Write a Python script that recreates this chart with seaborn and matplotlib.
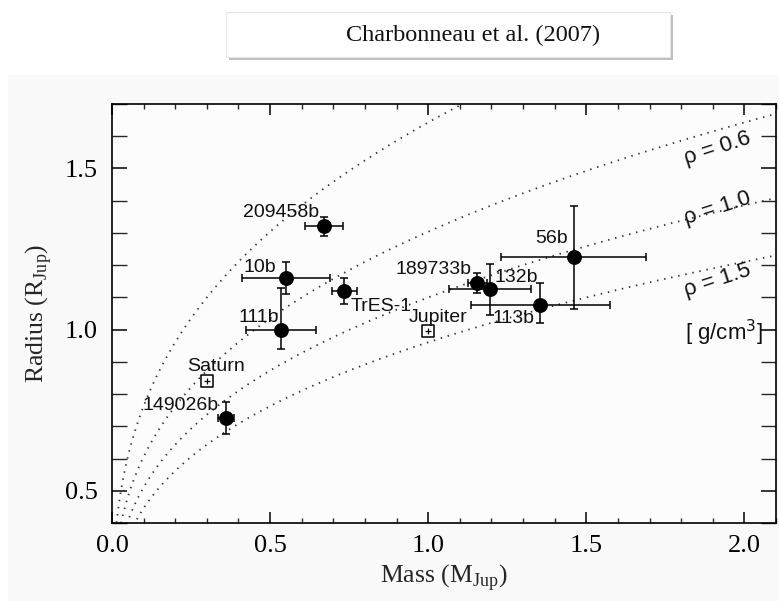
import numpy as np
import pandas as pd
import matplotlib
matplotlib.use("Agg")
import matplotlib.pyplot as plt
import seaborn as sns
from matplotlib.patches import Rectangle
from matplotlib.ticker import MultipleLocator

# ---------------- data ----------------
planets = ["209458b", "10b", "TrES-1", "111b", "149026b", "189733b", "132b", "113b", "56b"]
mass = [0.67, 0.55, 0.735, 0.535, 0.36, 1.155, 1.195, 1.355, 1.46]
mass_err = [0.06, 0.14, 0.04, 0.11, 0.025, 0.03, 0.13, 0.22, 0.23]
radius = [1.32, 1.16, 1.12, 1.00, 0.725, 1.145, 1.125, 1.075, 1.225]
radius_err_lo = [0.03, 0.05, 0.04, 0.06, 0.05, 0.03, 0.08, 0.055, 0.16]
radius_err_hi = [0.03, 0.05, 0.04, 0.13, 0.05, 0.03, 0.08, 0.07, 0.16]

solar = ["Saturn", "Jupiter"]
solar_mass = [0.30, 1.00]
solar_radius = [0.84, 0.995]

densities = [0.3, 0.6, 1.0, 1.5]          # g/cm^3
density_labels = ["ρ = 0.6", "ρ = 1.0", "ρ = 1.5"]
rho_jup = 1.33                             # g/cm^3, Jupiter mean density

x_ticks = [0.0, 0.5, 1.0, 1.5, 2.0]
y_ticks = [0.5, 1.0, 1.5]

title_text = "Charbonneau et al. (2007)"

# label offsets (pixels) and alignment for each planet label
planet_label_style = {
    "209458b": (-5, 14, "right"),
    "10b": (-10, 11, "right"),
    "TrES-1": (6, -16, "left"),
    "111b": (-2, 12, "right"),
    "149026b": (-7, 13, "right"),
    "189733b": (-6, 13, "right"),
    "132b": (5, 12, "left"),
    "113b": (-6, -13, "right"),
    "56b": (-6, 19, "right"),
}
solar_label_style = {"Saturn": (9, 15, "center"), "Jupiter": (10, 14, "center")}

# ---------------- figure ----------------
sns.set_style("ticks")
plt.rcParams["font.family"] = ["Liberation Serif", "DejaVu Serif"]
W, H = 779, 601
fig = plt.figure(figsize=(W / 100, H / 100), dpi=100)
fig.patch.set_facecolor("white")

# light gray backdrop of the original figure image
fig.patches.append(Rectangle((8 / W, 0), 1 - 8 / W, 1 - 75 / H, transform=fig.transFigure,
                             facecolor="#f9f9f9", edgecolor="none", zorder=-5))

# title box with shadow
bx0, bx1, by0, by1 = 226, 670, 12, 57
fig.patches.append(Rectangle(((bx0 + 3) / W, 1 - (by1 + 3) / H), (bx1 - bx0) / W, (by1 - by0) / H,
                             transform=fig.transFigure, facecolor="#b0b0b0", edgecolor="none",
                             zorder=-4, alpha=0.8))
fig.patches.append(Rectangle((bx0 / W, 1 - by1 / H), (bx1 - bx0) / W, (by1 - by0) / H,
                             transform=fig.transFigure, facecolor="white", edgecolor="#e6e6e6",
                             linewidth=0.8, zorder=-3))
fig.text(473 / W, 1 - 35 / H, title_text, ha="center", va="center", fontsize=17.5,
         family=["Liberation Serif"], color="#111111", zorder=3)

ax_l, ax_r, ax_t, ax_b = 112, 776, 104, 523
ax = fig.add_axes([ax_l / W, 1 - ax_b / H, (ax_r - ax_l) / W, (ax_b - ax_t) / H])
ax.set_zorder(2)
ax.set_facecolor("#fcfcfc")

# constant density curves
m_grid = np.linspace(0.0005, 2.1, 600)
for rho in densities:
    r_curve = (rho_jup * m_grid / rho) ** (1.0 / 3.0)
    df_c = pd.DataFrame({"mass": m_grid, "radius": r_curve})
    sns.lineplot(data=df_c, x="mass", y="radius", ax=ax, color="#333333",
                 linewidth=1.3, linestyle=(0, (0.8, 3.2)), sort=False, zorder=1)

# error bars
ax.errorbar(mass, radius, xerr=mass_err, yerr=[radius_err_lo, radius_err_hi], fmt="none",
            ecolor="black", elinewidth=1.1, capsize=3, capthick=1.1, zorder=2)

# transiting planets
df_p = pd.DataFrame({"planet": planets, "mass": mass, "radius": radius})
sns.scatterplot(data=df_p, x="mass", y="radius", ax=ax, s=115, color="black",
                edgecolor="black", linewidth=0, zorder=4)

# solar system planets
df_s = pd.DataFrame({"planet": solar, "mass": solar_mass, "radius": solar_radius})
sns.scatterplot(data=df_s, x="mass", y="radius", ax=ax, marker="s", s=75, facecolor="white",
                edgecolor="black", linewidth=1.1, zorder=4)
sns.scatterplot(data=df_s, x="mass", y="radius", ax=ax, marker="+", s=18, color="black",
                linewidth=0.9, zorder=5)

label_font = ["Liberation Sans", "DejaVu Sans"]
for name, m, r in zip(planets, mass, radius):
    dx, dy, ha = planet_label_style[name]
    ax.annotate(name, (m, r), xytext=(dx, dy), textcoords="offset pixels", ha=ha, va="center",
                fontsize=14, family=label_font, color="#111111", zorder=6)
for name, m, r in zip(solar, solar_mass, solar_radius):
    dx, dy, ha = solar_label_style[name]
    ax.annotate(name, (m, r), xytext=(dx, dy), textcoords="offset pixels", ha=ha, va="center",
                fontsize=14, family=label_font, color="#111111", zorder=6)

# density labels
dens_pos = [(1.915, 1.562), (1.915, 1.376), (1.915, 1.152)]
for lab, (xx, yy) in zip(density_labels, dens_pos):
    ax.text(xx, yy, lab, rotation=18, ha="center", va="center", fontsize=16,
            family=label_font, color="#111111", rotation_mode="anchor")
ax.text(1.935, 0.99, "[ g/cm$^3$]", ha="center", va="center", fontsize=16,
        family=label_font, color="#111111")

ax.set_xlim(0.0, 2.1)
ax.set_ylim(0.4, 1.7)
ax.set_xticks(x_ticks)
ax.set_yticks(y_ticks)
ax.set_xticklabels([f"{v:.1f}" for v in x_ticks])
ax.set_yticklabels([f"{v:.1f}" for v in y_ticks])
ax.xaxis.set_minor_locator(MultipleLocator(0.1))
ax.yaxis.set_minor_locator(MultipleLocator(0.1))
ax.tick_params(axis="x", which="major", direction="in", length=8, width=1.1, top=True,
               labelsize=19, pad=9, colors="black")
ax.tick_params(axis="x", which="minor", direction="in", length=3.5, width=1.0, top=True)
ax.tick_params(axis="y", which="major", direction="in", length=11, width=1.1, right=True,
               labelsize=19, pad=10, colors="black")
ax.tick_params(axis="y", which="minor", direction="in", length=11, width=1.0, right=True)
for sp in ax.spines.values():
    sp.set_visible(True)
    sp.set_linewidth(1.2)
    sp.set_color("black")

ax.set_xlabel("Mass (M$_{\\mathregular{Jup}}$)", fontsize=18.5, labelpad=3)
ax.set_ylabel("Radius (R$_{\\mathregular{Jup}}$)", fontsize=18.5, labelpad=8)

fig.savefig("out.png", dpi=100)
